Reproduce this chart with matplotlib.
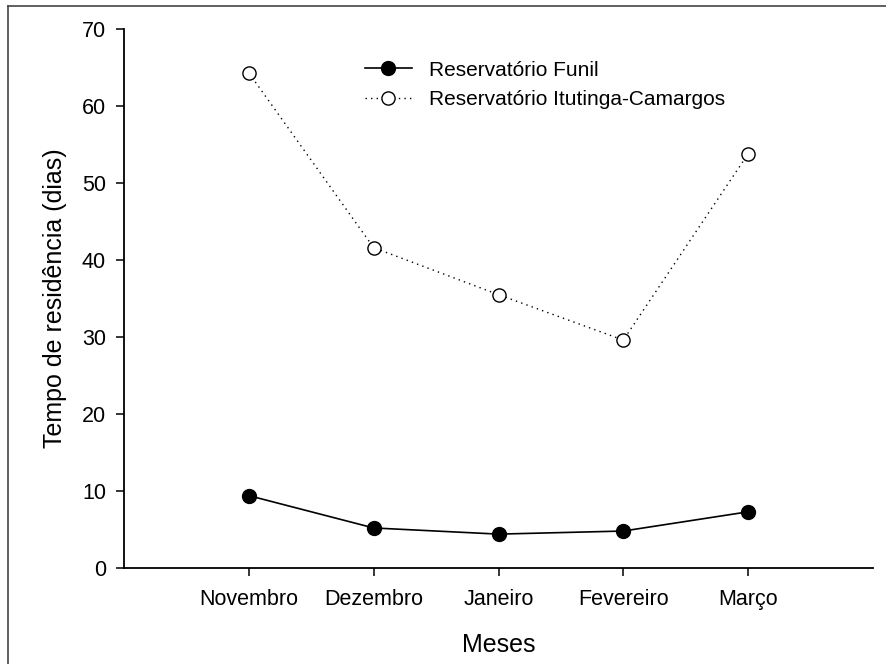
import matplotlib
matplotlib.use("Agg")
import matplotlib.pyplot as plt
from matplotlib.lines import Line2D

plt.rcParams['font.family'] = ['Liberation Sans', 'DejaVu Sans']

meses = ["Novembro", "Dezembro", "Janeiro", "Fevereiro", "Março"]
funil = [9.4, 5.2, 4.4, 4.8, 7.3]
itutinga = [64.3, 41.6, 35.5, 29.6, 53.8]
y_ticks = [0, 10, 20, 30, 40, 50, 60, 70]

fig = plt.figure(figsize=(8.86, 6.64), dpi=100)
ax = fig.add_axes([124/886, 1 - 568/664, (873-124)/886, (568-29)/664])

x = list(range(1, len(meses) + 1))
ax.plot(x, funil, color='black', lw=1.2, marker='o', ms=10,
        mfc='black', mec='black', label='Reservatório Funil')
ax.plot(x, itutinga, color='black', lw=1.0, ls=(0, (1, 3)), marker='o', ms=9.5,
        mfc='white', mec='black', mew=1.0, label='Reservatório Itutinga-Camargos')

ax.set_xlim(0, 6)
ax.set_ylim(0, 70)
ax.set_xticks(x)
ax.set_xticklabels(meses)
ax.set_yticks(y_ticks)
ax.spines['top'].set_visible(False)
ax.spines['right'].set_visible(False)
for s in ('left', 'bottom'):
    ax.spines[s].set_linewidth(1.3)
ax.tick_params(direction='out', length=6, width=1.1, labelsize=15.5)
ax.tick_params(axis='y', pad=7)
ax.tick_params(axis='x', pad=9)
ax.set_xlabel('Meses', fontsize=18, labelpad=17)
ax.set_ylabel('Tempo de residência (dias)', fontsize=18, labelpad=11)

leg = ax.legend(loc='upper left', bbox_to_anchor=(0.31, 0.957), frameon=False,
                fontsize=15, handlelength=2.3, handletextpad=0.8,
                labelspacing=0.5, borderaxespad=0)

# figure frame (left and top edges)
fig.add_artist(Line2D([8/886, 8/886], [0, 1 - 6/664], transform=fig.transFigure,
                      color='#444444', lw=1.2))
fig.add_artist(Line2D([8/886, 1], [1 - 6/664, 1 - 6/664], transform=fig.transFigure,
                      color='#444444', lw=1.2))

fig.savefig('out.png', dpi=100)
